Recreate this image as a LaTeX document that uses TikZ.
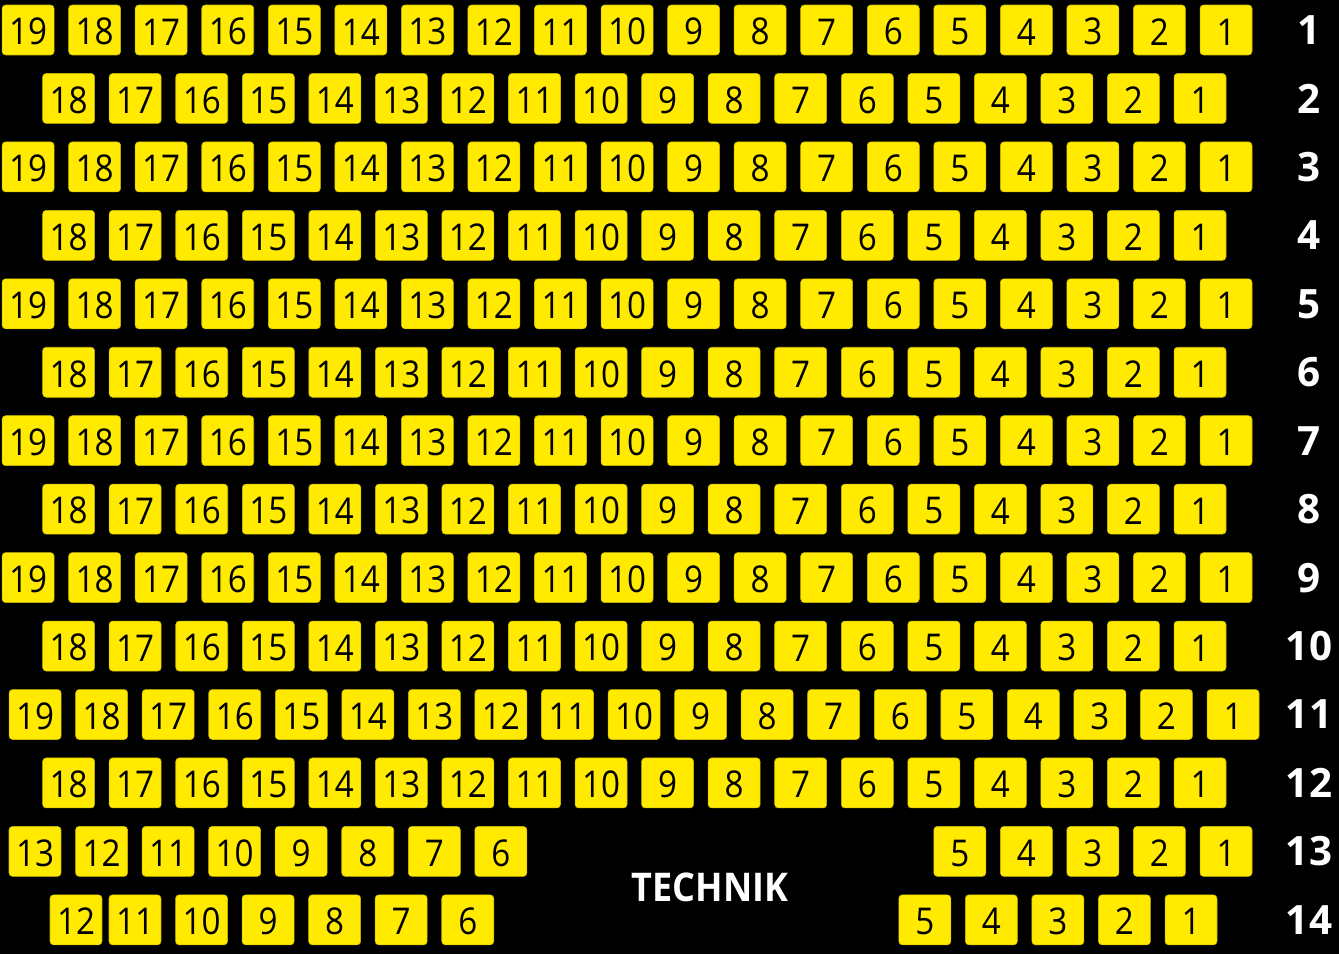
\documentclass[tikz,border=0pt]{standalone}
\usepackage{fontspec}
\setmainfont{Open Sans}
\newfontfamily\seatfont[FakeStretch=0.9]{Open Sans}
\newfontfamily\signfont[FakeStretch=0.91]{Open Sans}
\usepackage{xcolor}
\definecolor{seatyellow}{RGB}{255,234,0}

\begin{document}
\begin{tikzpicture}[x=0.02cm, y=-0.02cm,
  seat/.style={fill=seatyellow, draw=seatyellow!80!black, line width=0.3pt, rounded corners=0.07cm, minimum width=1.04cm, minimum height=1cm, inner sep=0pt, text height=0.6cm, text=black, font=\seatfont\fontsize{21}{21}\selectfont},
  rowlbl/.style={text=white, font=\bfseries\fontsize{23}{23}\selectfont}]
\fill[black] (0,0) rectangle (1339,954);
\useasboundingbox (0,0) rectangle (1339,954);
% odd rows
\foreach \r in {1,3,5,7,9} {
  \foreach \k in {1,...,19}
    \node[seat] (s\r-\k) at ({1226-(\k-1)*66.55},{30+(\r-1)*68.45}) {\k};
}
\foreach \k in {1,...,19}
  \node[seat] (s11-\k) at ({1233-(\k-1)*66.55},{30+10*68.45}) {\k};
% even rows
\foreach \r in {2,4,...,12} {
  \foreach \k in {1,...,18}
    \node[seat] (s\r-\k) at ({1200-(\k-1)*66.55},{30+(\r-1)*68.45}) {\k};
}
% rows 13 and 14
\foreach \k in {6,...,13}
  \node[seat] (s13-\k) at ({35+(13-\k)*66.55},{30+12*68.45}) {\k};
\foreach \k in {1,...,5}
  \node[seat] (s13-\k) at ({1226-(\k-1)*66.55},{30+12*68.45}) {\k};
\node[seat] (s14-12) at (76,{30+13*68.45}) {12};
\foreach \k in {6,...,11}
  \node[seat] (s14-\k) at ({135+(11-\k)*66.55},{30+13*68.45}) {\k};
\foreach \k in {1,...,5}
  \node[seat] (s14-\k) at ({1191-(\k-1)*66.55},{30+13*68.45}) {\k};
% row numbers
\foreach \r in {1,...,14}
  \node[rowlbl] (row\r) at (1309,{30+(\r-1)*68.45}) {\r};
\node[rowlbl, font=\signfont\bfseries\fontsize{22.5}{22.5}\selectfont] (technik) at (710,887) {TECHNIK};
\end{tikzpicture}
\end{document}
